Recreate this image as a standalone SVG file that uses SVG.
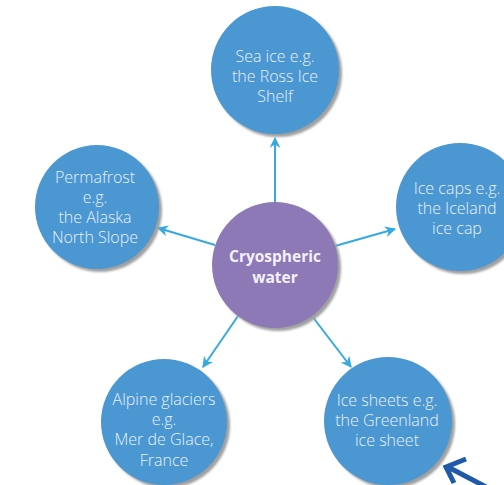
<svg xmlns="http://www.w3.org/2000/svg" width="504" height="485" viewBox="0 0 504 485">
  <defs>
    <marker id="head" viewBox="0 0 10 10" refX="9" refY="5" markerWidth="5.5" markerHeight="5.5" orient="auto" markerUnits="strokeWidth">
      <path d="M0,0 L10,5 L0,10 L3,5 Z" fill="#36a9e1"/>
    </marker>
    <filter id="soft" x="-10%" y="-10%" width="120%" height="120%">
      <feGaussianBlur stdDeviation="1"/>
    </filter>
  </defs>
  <style>
    .shadow { fill: #a0a0a0; filter: url(#soft); }
    .node { fill: #4a97d2; }
    .hub { fill: #8c79b6; }
    .label { font-family: "Open Sans", "Liberation Sans", sans-serif; font-size: 16px; fill: #eaf1f9; text-anchor: middle; font-weight: 300; }
    .hub-label { font-family: "Open Sans", "Liberation Sans", sans-serif; font-size: 15.5px; fill: #f4f1f8; text-anchor: middle; font-weight: bold; }
    .link { stroke: #36a9e1; stroke-width: 2; fill: none; marker-end: url(#head); }
  </style>
  <rect width="504" height="485" fill="#ffffff"/>

  <g id="connectors">
    <line class="link" x1="275" y1="202" x2="275" y2="138"/>
    <line class="link" x1="335" y1="246" x2="395" y2="229"/>
    <line class="link" x1="215" y1="245" x2="158" y2="228"/>
    <line class="link" x1="238" y1="316" x2="203" y2="367"/>
    <line class="link" x1="312" y1="316" x2="351" y2="367"/>
  </g>

  <g id="sea-ice">
    <circle class="shadow" cx="278" cy="73" r="64"/>
    <circle class="node" cx="275" cy="70" r="64"/>
    <text class="label" x="275" y="62">Sea ice e.g.</text>
    <text class="label" x="275" y="82">the Ross Ice</text>
    <text class="label" x="275" y="102">Shelf</text>
  </g>

  <g id="ice-caps">
    <circle class="shadow" cx="463" cy="210" r="64"/>
    <circle class="node" cx="460" cy="207" r="64"/>
    <text class="label" x="457" y="194">Ice caps e.g.</text>
    <text class="label" x="457" y="214">the Iceland</text>
    <text class="label" x="457" y="234">ice cap</text>
  </g>

  <g id="permafrost">
    <circle class="shadow" cx="100" cy="210" r="62"/>
    <circle class="node" cx="97" cy="207" r="62"/>
    <text class="label" x="95" y="183">Permafrost</text>
    <text class="label" x="95" y="203">e.g.</text>
    <text class="label" x="95" y="223">the Alaska</text>
    <text class="label" x="95" y="243">North Slope</text>
  </g>

  <g id="alpine-glaciers">
    <circle class="shadow" cx="167" cy="425" r="63"/>
    <circle class="node" cx="164" cy="422" r="63"/>
    <text class="label" x="164" y="405">Alpine glaciers</text>
    <text class="label" x="164" y="425">e.g.</text>
    <text class="label" x="164" y="445">Mer de Glace,</text>
    <text class="label" x="164" y="466">France</text>
  </g>

  <g id="ice-sheets">
    <circle class="shadow" cx="391" cy="424" r="64"/>
    <circle class="node" cx="388" cy="421" r="64"/>
    <text class="label" x="387" y="406">Ice sheets e.g.</text>
    <text class="label" x="387" y="426">the Greenland</text>
    <text class="label" x="387" y="446">ice sheet</text>
  </g>

  <g id="cryospheric-water">
    <circle class="shadow" cx="278" cy="268" r="63"/>
    <circle class="hub" cx="275" cy="265" r="63"/>
    <text class="hub-label" x="275" y="262">Cryospheric</text>
    <text class="hub-label" x="275" y="283">water</text>
  </g>

  <g id="pointer">
    <path d="M488,488 L448,467 M466,459 L446,467 L454,483" fill="none" stroke="#1f5aa8" stroke-width="5" stroke-linecap="butt" stroke-linejoin="miter"/>
  </g>
</svg>
